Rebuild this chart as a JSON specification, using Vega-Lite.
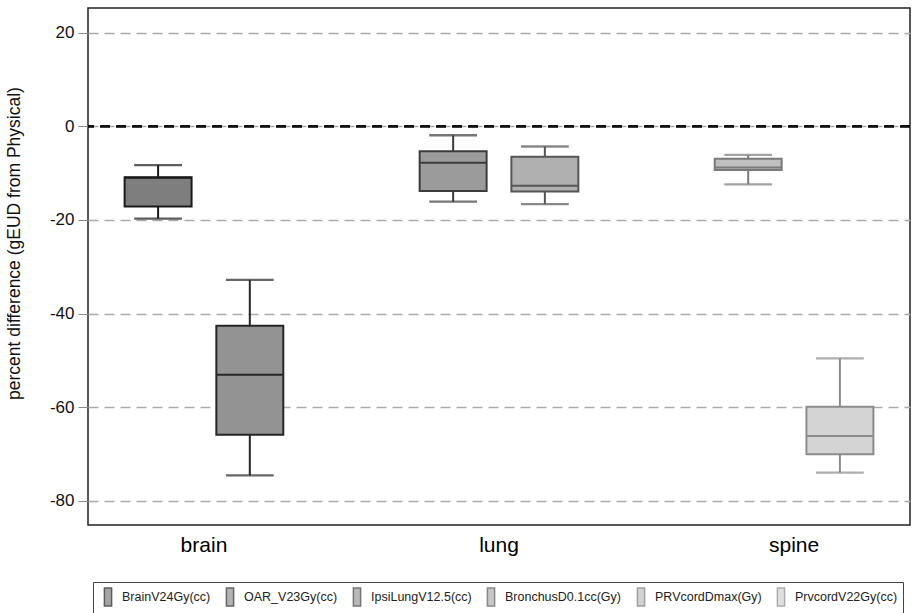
{
  "$schema": "https://vega.github.io/schema/vega-lite/v6.json",
  "width": 822,
  "height": 517,
  "autosize": {"type": "none"},
  "padding": {"left": 88, "top": 8, "right": 13, "bottom": 88},
  "background": "white",
  "config": {
    "font": "Liberation Sans",
    "view": {"stroke": "#222", "strokeWidth": 1.5},
    "legend": {
      "orient": "none",
      "legendX": 5,
      "legendY": 574,
      "direction": "horizontal",
      "strokeColor": "#444",
      "padding": 5,
      "symbolType": "M-0.4,-1H0.4V1H-0.4Z",
      "symbolSize": 324,
      "symbolStrokeWidth": 1.5,
      "labelFontSize": 12.5,
      "labelOffset": 4,
      "columnPadding": 9,
      "labelColor": "#222"
    }
  },
  "data": {
    "values": [
      {"site": "brain", "series": "BrainV24Gy(cc)", "lower": -19.7, "q1": -17.1, "median": -11.0, "q3": -10.9, "upper": -8.3},
      {"site": "brain", "series": "OAR_V23Gy(cc)", "lower": -74.6, "q1": -65.9, "median": -53.1, "q3": -42.6, "upper": -32.8},
      {"site": "lung", "series": "IpsiLungV12.5(cc)", "lower": -16.1, "q1": -13.8, "median": -7.8, "q3": -5.3, "upper": -1.9},
      {"site": "lung", "series": "BronchusD0.1cc(Gy)", "lower": -16.6, "q1": -13.9, "median": -12.7, "q3": -6.5, "upper": -4.3},
      {"site": "spine", "series": "PRVcordDmax(Gy)", "lower": -12.4, "q1": -9.3, "median": -8.8, "q3": -6.9, "upper": -6.1},
      {"site": "spine", "series": "PrvcordV22Gy(cc)", "lower": -74.0, "q1": -70.1, "median": -66.2, "q3": -59.9, "upper": -49.6}
    ]
  },
  "transform": [
    {"window": [{"op": "row_number", "as": "slot"}], "groupby": ["site"]}
  ],
  "layer": [
    {
      "mark": {"type": "rule", "strokeDash": [10, 6], "strokeWidth": 2, "color": "#111"},
      "encoding": {
        "y": {
          "datum": 0,
          "type": "quantitative",
          "scale": {"domain": [-85.2, 25.3], "nice": false, "zero": false},
          "axis": {
            "values": [-80, -60, -40, -20, 0, 20],
            "labelExpr": "datum.value + ''",
            "grid": true,
            "gridDash": [10, 6],
            "gridColor": "#aaaaaa",
            "gridWidth": 1.5,
            "domain": false,
            "tickColor": "#888",
            "tickSize": 10,
            "labelFontSize": 17,
            "labelColor": "#111",
            "labelPadding": 4,
            "title": "percent difference (gEUD from Physical)",
            "titleFontSize": 17.5,
            "titleFontWeight": "normal",
            "titleColor": "#111",
            "titleX": -74,
            "titleY": 235,
            "titleAngle": -90,
            "titleAlign": "center",
            "titleBaseline": "middle"
          }
        }
      }
    },
    {
      "encoding": {
        "x": {
          "field": "site",
          "type": "nominal",
          "sort": ["brain", "lung", "spine"],
          "scale": {"paddingInner": 0.4, "paddingOuter": 0.093},
          "axis": {
            "title": null,
            "domain": false,
            "ticks": false,
            "labelAngle": 0,
            "labelFontSize": 21,
            "labelColor": "#000",
            "labelPadding": 9
          }
        },
        "xOffset": {
          "field": "slot",
          "type": "nominal",
          "scale": {"paddingInner": 0.27, "paddingOuter": 0.1}
        },
        "stroke": {
          "field": "series",
          "type": "nominal",
          "scale": {
            "domain": ["BrainV24Gy(cc)", "OAR_V23Gy(cc)", "IpsiLungV12.5(cc)", "BronchusD0.1cc(Gy)", "PRVcordDmax(Gy)", "PrvcordV22Gy(cc)"],
            "range": ["#1a1a1a", "#262626", "#3c3c3c", "#555555", "#7a7a7a", "#8c8c8c"]
          },
          "legend": {"title": null}
        }
      },
      "layer": [
        {
          "mark": {"type": "rule", "strokeWidth": 2},
          "encoding": {
            "y": {"field": "lower", "type": "quantitative"},
            "y2": {"field": "upper"}
          }
        },
        {
          "mark": {"type": "tick", "filled": false, "thickness": 0.5, "size": 46, "strokeWidth": 1.8},
          "encoding": {"y": {"field": "lower", "type": "quantitative"}}
        },
        {
          "mark": {"type": "tick", "filled": false, "thickness": 0.5, "size": 46, "strokeWidth": 1.8},
          "encoding": {"y": {"field": "upper", "type": "quantitative"}}
        },
        {
          "mark": {"type": "bar", "strokeWidth": 2},
          "encoding": {
            "y": {"field": "q1", "type": "quantitative"},
            "y2": {"field": "q3"},
            "fill": {
              "field": "series",
              "type": "nominal",
              "scale": {
                "domain": ["BrainV24Gy(cc)", "OAR_V23Gy(cc)", "IpsiLungV12.5(cc)", "BronchusD0.1cc(Gy)", "PRVcordDmax(Gy)", "PrvcordV22Gy(cc)"],
                "range": ["#7e7e7e", "#939393", "#9b9b9b", "#b0b0b0", "#bfbfbf", "#d4d4d4"]
              },
              "legend": {"title": null}
            }
          }
        },
        {
          "mark": {"type": "bar", "fill": null, "strokeWidth": 2},
          "encoding": {
            "y": {"field": "median", "type": "quantitative"},
            "y2": {"field": "median"}
          }
        }
      ]
    }
  ]
}
